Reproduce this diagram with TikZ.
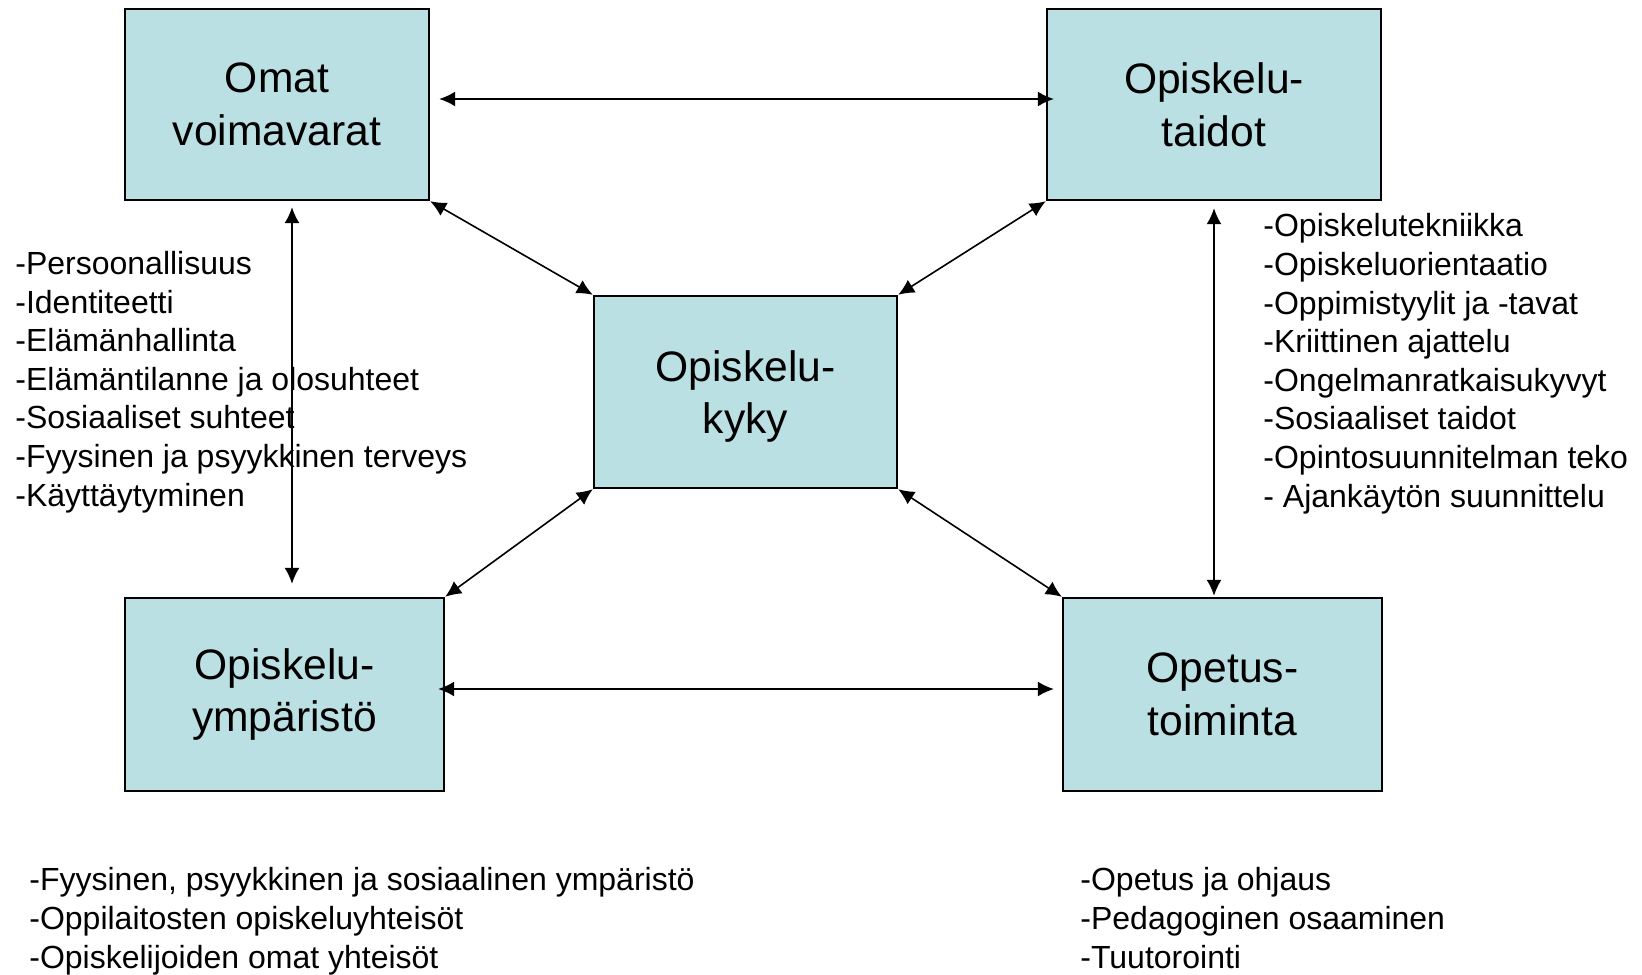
\documentclass[tikz,border=0pt]{standalone}
\usepackage{fontspec}
\setmainfont{Liberation Sans}
\usetikzlibrary{arrows.meta}
\definecolor{boxfill}{HTML}{BBE0E3}
\tikzset{
	box/.style={draw=black, line width=1.2pt, fill=boxfill, inner sep=0pt, align=center, font=\fontsize{21.3}{26.3}\selectfont},
	listtext/.style={inner sep=0pt, align=left, anchor=base west, font=\fontsize{16}{19.3}\selectfont},
	biarrow/.style={{Latex[length=8pt,width=7.5pt]}-{Latex[length=8pt,width=7.5pt]}, line width=0.8pt},
}
\begin{document}
\begin{tikzpicture}[x=0.5pt,y=-0.5pt]
	\useasboundingbox (0,0) rectangle (1642,974);
	\node[box, minimum width=152pt, minimum height=95.5pt] (omat) at (277,104.5) {Omat\\voimavarat};
	\node[box, minimum width=167pt, minimum height=95.5pt] (taidot) at (1214,104.5) {Opiskelu-\\taidot};
	\node[box, minimum width=151.5pt, minimum height=96pt] (kyky) at (745.5,392) {\rule{0pt}{20pt}Opiskelu-\\kyky};
	\node[box, minimum width=159.5pt, minimum height=96.5pt] (ymp) at (284.5,694.5) {Opiskelu-\\ympäristö};
	\node[box, minimum width=159.5pt, minimum height=96.5pt] (opetus) at (1222.5,694.5) {Opetus-\\toiminta};
	%
	\node[listtext] (omatlist) at (15,506) {-Persoonallisuus\\-Identiteetti\\-Elämänhallinta\\-Elämäntilanne ja olosuhteet\\-Sosiaaliset suhteet\\-Fyysinen ja psyykkinen terveys\\-Käyttäytyminen};
	\node[listtext] (taidotlist) at (1263,507) {-Opiskelutekniikka\\-Opiskeluorientaatio\\-Oppimistyylit ja -tavat\\-Kriittinen ajattelu\\-Ongelmanratkaisukyvyt\\-Sosiaaliset taidot\\-Opintosuunnitelman teko\\- Ajankäytön suunnittelu};
	\node[listtext] (ymplist) at (29,968) {-Fyysinen, psyykkinen ja sosiaalinen ympäristö\\-Oppilaitosten opiskeluyhteisöt\\-Opiskelijoiden omat yhteisöt};
	\node[listtext] (opetuslist) at (1080,968) {-Opetus ja ohjaus\\-Pedagoginen osaaminen\\-Tuutorointi};
	%
	\draw[biarrow, shorten <=4.5pt, shorten >=-4pt] ([yshift=2.75pt]omat.east) -- ([yshift=2.75pt]omat.east -| taidot.west);
	\draw[biarrow, shorten <=-3.5pt, shorten >=4pt] ([yshift=2.75pt]ymp.east) -- ([yshift=2.75pt]ymp.east -| opetus.west);
	\draw[biarrow, shorten <=3pt, shorten >=6.5pt] ([xshift=7.5pt]omat.south) -- ([xshift=7.5pt]omat.south |- ymp.north);
	\draw[biarrow, shorten <=3.5pt, shorten >=0.5pt] (taidot.south) -- (taidot.south |- opetus.north);
	%
	\draw[biarrow] (omat.south east) -- (kyky.north west);
	\draw[biarrow] (taidot.south west) -- (kyky.north east);
	\draw[biarrow] (kyky.south west) -- (ymp.north east);
	\draw[biarrow] (kyky.south east) -- (opetus.north west);
\end{tikzpicture}
\end{document}
